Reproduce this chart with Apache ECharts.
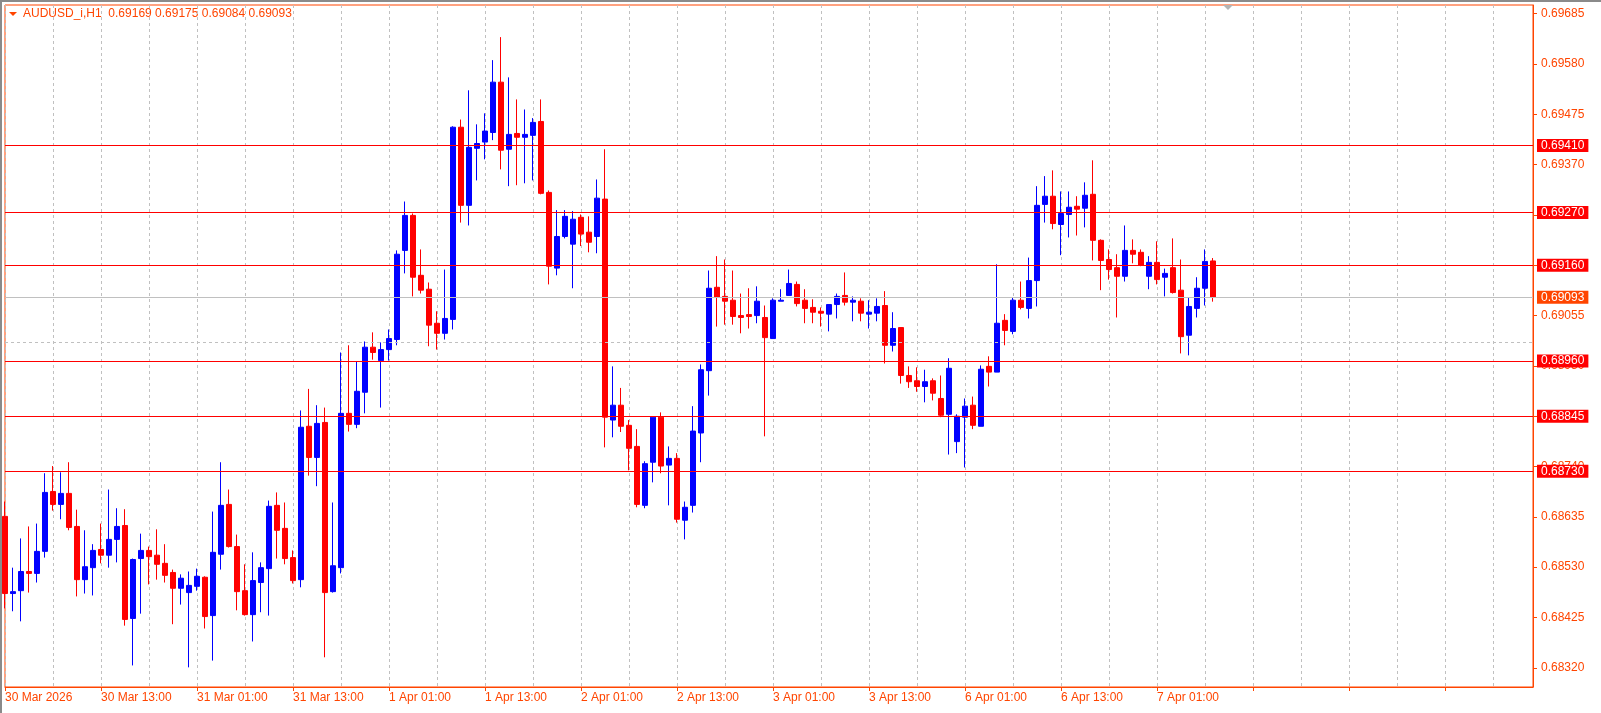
<!DOCTYPE html>
<html lang="en">
<head>
    <meta charset="UTF-8">
    <title>AUDUSD_i,H1</title>
    <script src="https://cdn.jsdelivr.net/npm/echarts@6/dist/echarts.min.js"></script>
    <style>
        html, body { margin: 0; height: 100%; background: #fff; }
        #container { width: 1601px; height: 713px; }
        #edgeTop { position: absolute; left: 0; top: 0; width: 1601px; height: 2px; background: #8a8a8a; }
        #edgeLeft { position: absolute; left: 0; top: 0; width: 2px; height: 713px; background: #8a8a8a; }
    </style>
</head>
<body>
<div id="container"></div>
<div id="edgeTop"></div>
<div id="edgeLeft"></div>
<script type="text/javascript">
    // one candle per hour, starting 30 Mar 01:00; [open, close, low, high]
    var candles = [
        [0.68636, 0.68475, 0.68444, 0.68667], [0.68475, 0.68479, 0.68438, 0.68529],
        [0.68481, 0.68521, 0.68417, 0.68590], [0.68521, 0.68517, 0.68477, 0.68615],
        [0.68517, 0.68563, 0.68498, 0.68621], [0.68563, 0.68686, 0.68550, 0.68726],
        [0.68688, 0.68661, 0.68648, 0.68741], [0.68661, 0.68684, 0.68630, 0.68728],
        [0.68684, 0.68613, 0.68607, 0.68749], [0.68615, 0.68504, 0.68469, 0.68650],
        [0.68504, 0.68531, 0.68475, 0.68607], [0.68529, 0.68565, 0.68471, 0.68578],
        [0.68567, 0.68555, 0.68538, 0.68621], [0.68555, 0.68588, 0.68529, 0.68692],
        [0.68588, 0.68615, 0.68540, 0.68653], [0.68617, 0.68421, 0.68408, 0.68651],
        [0.68423, 0.68546, 0.68325, 0.68548], [0.68548, 0.68565, 0.68433, 0.68600],
        [0.68565, 0.68552, 0.68494, 0.68573], [0.68555, 0.68536, 0.68504, 0.68609],
        [0.68538, 0.68513, 0.68498, 0.68578], [0.68519, 0.68486, 0.68411, 0.68525],
        [0.68486, 0.68507, 0.68452, 0.68515], [0.68477, 0.68492, 0.68321, 0.68521],
        [0.68490, 0.68511, 0.68481, 0.68527], [0.68509, 0.68427, 0.68402, 0.68511],
        [0.68429, 0.68561, 0.68335, 0.68646], [0.68557, 0.68659, 0.68525, 0.68749],
        [0.68661, 0.68573, 0.68571, 0.68692], [0.68573, 0.68479, 0.68440, 0.68598],
        [0.68481, 0.68431, 0.68429, 0.68536], [0.68431, 0.68502, 0.68375, 0.68561],
        [0.68498, 0.68529, 0.68436, 0.68540], [0.68527, 0.68657, 0.68429, 0.68669],
        [0.68659, 0.68607, 0.68548, 0.68686], [0.68611, 0.68548, 0.68536, 0.68665],
        [0.68550, 0.68502, 0.68496, 0.68565], [0.68504, 0.68822, 0.68488, 0.68857],
        [0.68824, 0.68759, 0.68721, 0.68902], [0.68759, 0.68830, 0.68699, 0.68868],
        [0.68832, 0.68477, 0.68342, 0.68863], [0.68479, 0.68533, 0.68477, 0.68665],
        [0.68529, 0.68851, 0.68517, 0.68978], [0.68851, 0.68828, 0.68813, 0.68993],
        [0.68828, 0.68897, 0.68820, 0.68959], [0.68895, 0.68989, 0.68851, 0.69001],
        [0.68989, 0.68978, 0.68963, 0.69020], [0.68961, 0.68984, 0.68863, 0.68999],
        [0.68984, 0.69007, 0.68961, 0.69026], [0.69005, 0.69183, 0.68993, 0.69191],
        [0.69191, 0.69264, 0.69143, 0.69293], [0.69264, 0.69135, 0.69095, 0.69268],
        [0.69139, 0.69108, 0.69101, 0.69193], [0.69110, 0.69035, 0.68991, 0.69124],
        [0.69039, 0.69018, 0.68984, 0.69064], [0.69018, 0.69049, 0.69005, 0.69151],
        [0.69047, 0.69448, 0.69026, 0.69450], [0.69448, 0.69285, 0.69249, 0.69464],
        [0.69285, 0.69406, 0.69243, 0.69525], [0.69404, 0.69414, 0.69337, 0.69454],
        [0.69417, 0.69440, 0.69381, 0.69477], [0.69437, 0.69542, 0.69421, 0.69588],
        [0.69542, 0.69400, 0.69360, 0.69636], [0.69402, 0.69433, 0.69325, 0.69552],
        [0.69435, 0.69427, 0.69327, 0.69506], [0.69427, 0.69433, 0.69331, 0.69485],
        [0.69431, 0.69458, 0.69337, 0.69467], [0.69460, 0.69310, 0.69308, 0.69506],
        [0.69312, 0.69158, 0.69120, 0.69316], [0.69154, 0.69220, 0.69139, 0.69275],
        [0.69220, 0.69262, 0.69216, 0.69275], [0.69204, 0.69256, 0.69112, 0.69273],
        [0.69260, 0.69225, 0.69200, 0.69266], [0.69229, 0.69208, 0.69187, 0.69262],
        [0.69220, 0.69300, 0.69185, 0.69339], [0.69298, 0.68843, 0.68780, 0.69402],
        [0.68837, 0.68868, 0.68801, 0.68949], [0.68868, 0.68824, 0.68812, 0.68904],
        [0.68826, 0.68778, 0.68732, 0.68837], [0.68782, 0.68661, 0.68655, 0.68818],
        [0.68659, 0.68746, 0.68653, 0.68751], [0.68749, 0.68843, 0.68707, 0.68843],
        [0.68843, 0.68741, 0.68726, 0.68853], [0.68743, 0.68757, 0.68659, 0.68782],
        [0.68757, 0.68630, 0.68623, 0.68768], [0.68628, 0.68655, 0.68588, 0.68667],
        [0.68659, 0.68814, 0.68644, 0.68866], [0.68810, 0.68942, 0.68749, 0.68953],
        [0.68940, 0.69112, 0.68888, 0.69149], [0.69114, 0.69093, 0.69032, 0.69179],
        [0.69095, 0.69085, 0.69036, 0.69172], [0.69087, 0.69053, 0.69036, 0.69149],
        [0.69055, 0.69051, 0.69018, 0.69101], [0.69057, 0.69053, 0.69028, 0.69112],
        [0.69055, 0.69085, 0.69039, 0.69116], [0.69051, 0.69009, 0.68803, 0.69076],
        [0.69007, 0.69087, 0.69007, 0.69091], [0.69085, 0.69087, 0.69085, 0.69110],
        [0.69097, 0.69122, 0.69097, 0.69151], [0.69120, 0.69080, 0.69074, 0.69126],
        [0.69087, 0.69070, 0.69039, 0.69110], [0.69072, 0.69062, 0.69039, 0.69089],
        [0.69064, 0.69060, 0.69032, 0.69072], [0.69058, 0.69078, 0.69022, 0.69078],
        [0.69078, 0.69095, 0.69049, 0.69101], [0.69097, 0.69083, 0.69076, 0.69145],
        [0.69083, 0.69087, 0.69043, 0.69095], [0.69085, 0.69060, 0.69043, 0.69091],
        [0.69058, 0.69062, 0.69028, 0.69087], [0.69060, 0.69074, 0.69043, 0.69091],
        [0.69076, 0.68993, 0.68955, 0.69106], [0.68993, 0.69028, 0.68980, 0.69062],
        [0.69030, 0.68930, 0.68913, 0.69030], [0.68930, 0.68917, 0.68904, 0.68949],
        [0.68919, 0.68907, 0.68896, 0.68947], [0.68907, 0.68917, 0.68874, 0.68942],
        [0.68919, 0.68893, 0.68878, 0.68924], [0.68882, 0.68847, 0.68843, 0.68930],
        [0.68849, 0.68945, 0.68765, 0.68966], [0.68792, 0.68845, 0.68768, 0.68849],
        [0.68843, 0.68866, 0.68738, 0.68882], [0.68868, 0.68826, 0.68818, 0.68886],
        [0.68824, 0.68943, 0.68824, 0.68951], [0.68949, 0.68937, 0.68907, 0.68970],
        [0.68937, 0.69039, 0.68937, 0.69162], [0.69045, 0.69024, 0.68993, 0.69058],
        [0.69022, 0.69087, 0.69016, 0.69093], [0.69087, 0.69072, 0.69068, 0.69126],
        [0.69070, 0.69128, 0.69049, 0.69176], [0.69128, 0.69285, 0.69074, 0.69325],
        [0.69287, 0.69304, 0.69249, 0.69346], [0.69304, 0.69247, 0.69235, 0.69358],
        [0.69245, 0.69268, 0.69181, 0.69314], [0.69266, 0.69281, 0.69218, 0.69314],
        [0.69283, 0.69277, 0.69222, 0.69304], [0.69279, 0.69306, 0.69239, 0.69333],
        [0.69308, 0.69212, 0.69170, 0.69379], [0.69212, 0.69170, 0.69108, 0.69214],
        [0.69172, 0.69151, 0.69130, 0.69193], [0.69155, 0.69137, 0.69051, 0.69183],
        [0.69137, 0.69191, 0.69126, 0.69243], [0.69191, 0.69183, 0.69164, 0.69214],
        [0.69187, 0.69160, 0.69158, 0.69193], [0.69137, 0.69166, 0.69110, 0.69179],
        [0.69166, 0.69130, 0.69120, 0.69210], [0.69135, 0.69143, 0.69095, 0.69153],
        [0.69155, 0.69103, 0.69101, 0.69216], [0.69108, 0.69011, 0.68976, 0.69172],
        [0.69014, 0.69074, 0.68972, 0.69093], [0.69070, 0.69112, 0.69051, 0.69135],
        [0.69112, 0.69168, 0.69076, 0.69193], [0.69169, 0.69093, 0.69084, 0.69175]
    ];

    var timeLabels = ['30 Mar 2026', '30 Mar 13:00', '31 Mar 01:00', '31 Mar 13:00', '1 Apr 01:00',
        '1 Apr 13:00', '2 Apr 01:00', '2 Apr 13:00', '3 Apr 01:00', '3 Apr 13:00',
        '6 Apr 01:00', '6 Apr 13:00', '7 Apr 01:00'];
    var priceTicks = [0.69685, 0.69580, 0.69475, 0.69370, 0.69265, 0.69160, 0.69055,
        0.68950, 0.68845, 0.68740, 0.68635, 0.68530, 0.68425, 0.68320];
    var levels = [0.69410, 0.69270, 0.69160, 0.68960, 0.68845, 0.68730];
    var bid = 0.69093;
    var header = 'AUDUSD_i,H1  0.69169 0.69175 0.69084 0.69093';

    var slots = 192;
    var categories = [];
    for (var i = 0; i < slots; i++) {
        categories.push(i % 12 === 0 && timeLabels[i / 12] ? timeLabels[i / 12] : String(i));
    }

    var orange = '#ff4500';
    var font = 'Liberation Sans';

    let chart = {
        paint: function () {
            let dom = document.getElementById("container");
            let myChart = echarts.init(dom);

            let option = {
                animation: false,
                textStyle: {fontFamily: font},
                grid: {left: 5, top: 5, width: 1528, height: 682, show: true,
                    borderColor: orange, borderWidth: 1, backgroundColor: '#fff'},
                graphic: [
                    {type: 'polygon', shape: {points: [[9, 12], [17, 12], [13, 16]]}, style: {fill: orange}},
                    {type: 'text', left: 23, top: 8,
                        style: {text: header, fill: orange, font: '12px "' + font + '"'}},
                    {type: 'polygon', shape: {points: [[1223, 5], [1233, 5], [1228, 10]]}, style: {fill: '#b4b4b4'}}
                ],
                xAxis: {
                    type: 'category',
                    data: categories,
                    boundaryGap: false,
                    axisLine: {lineStyle: {color: orange}},
                    axisTick: {interval: 11, length: 4, lineStyle: {color: orange}},
                    axisLabel: {
                        interval: 11, color: orange, fontSize: 12, align: 'left', margin: 5,
                        formatter: function (v) { return isNaN(+v) ? v : ''; }
                    },
                    splitLine: {show: true, interval: 5, lineStyle: {color: '#c0c0c0', type: [3, 3]}}
                },
                yAxis: {
                    type: 'value',
                    position: 'right',
                    min: 0.68280,
                    max: 0.69703,
                    scale: true,
                    axisLine: {show: true, lineStyle: {color: orange}},
                    axisTick: {show: true, customValues: priceTicks, length: 4, lineStyle: {color: orange}},
                    axisLabel: {customValues: priceTicks, color: orange, fontSize: 12, margin: 8,
                        formatter: function (v) { return v.toFixed(5); }},
                    splitLine: {show: false}
                },
                series: [{
                    type: 'line',
                    data: [],
                    silent: true,
                    z: 1,
                    markLine: {
                        silent: true, symbol: 'none', animation: false,
                        label: {show: false},
                        lineStyle: {color: '#c0c0c0', type: [3, 3], width: 1},
                        data: priceTicks.map(function (v) { return {yAxis: v}; })
                    }
                }, {
                    type: 'candlestick',
                    data: candles,
                    barWidth: 5,
                    z: 3,
                    itemStyle: {
                        color: '#0000ff', color0: '#ff0000',
                        borderColor: '#0000ff', borderColor0: '#ff0000', borderWidth: 1
                    },
                    markLine: {
                        silent: true, symbol: 'none', animation: false, precision: 5,
                        label: {
                            position: 'end', distance: 4, color: '#fff', fontSize: 12,
                            padding: [1, 4, 0, 4], backgroundColor: '#ff0000',
                            formatter: function (p) { return p.value.toFixed(5); }
                        },
                        lineStyle: {color: '#ff0000', type: 'solid', width: 1},
                        data: levels.map(function (v) { return {yAxis: v}; }).concat([{
                            yAxis: bid,
                            lineStyle: {color: '#c0c0c0', type: 'solid'},
                            label: {backgroundColor: orange}
                        }])
                    }
                }]
            };
            myChart.setOption(option, true);
        }
    };

    chart.paint();
</script>
</body>
</html>
